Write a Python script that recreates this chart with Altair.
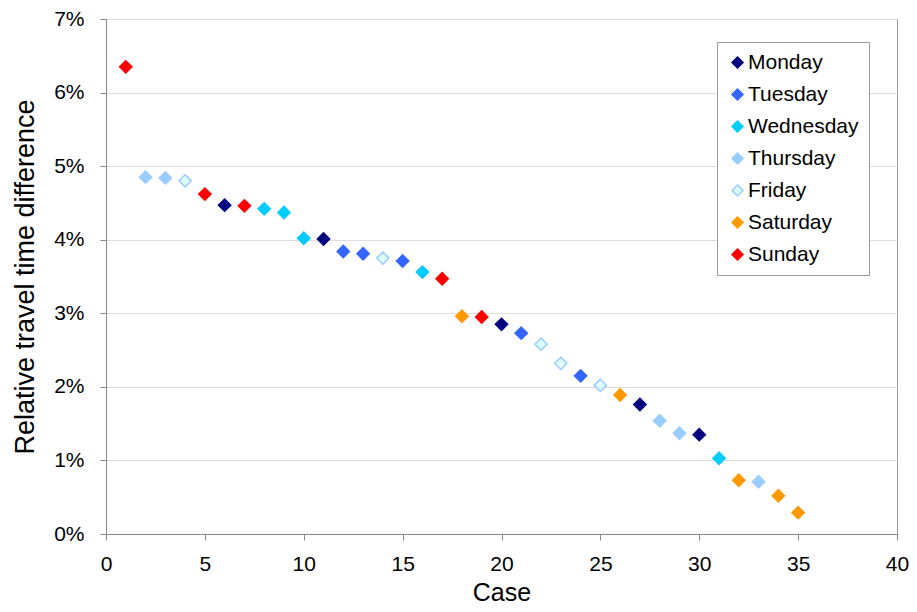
import altair as alt
import pandas as pd

cases = list(range(1, 36))
values = [6.35, 4.85, 4.84, 4.80, 4.62, 4.47, 4.46, 4.42, 4.37, 4.02,
          4.01, 3.84, 3.81, 3.75, 3.71, 3.56, 3.47, 2.96, 2.95, 2.85,
          2.73, 2.58, 2.32, 2.15, 2.02, 1.89, 1.76, 1.54, 1.37, 1.35,
          1.03, 0.73, 0.71, 0.52, 0.29]
days = ["Sunday", "Thursday", "Thursday", "Friday", "Sunday", "Monday", "Sunday",
        "Wednesday", "Wednesday", "Wednesday", "Monday", "Tuesday", "Tuesday",
        "Friday", "Tuesday", "Wednesday", "Sunday", "Saturday", "Sunday", "Monday",
        "Tuesday", "Friday", "Friday", "Tuesday", "Friday", "Saturday", "Monday",
        "Thursday", "Thursday", "Monday", "Wednesday", "Saturday", "Thursday",
        "Saturday", "Saturday"]

day_order = ["Monday", "Tuesday", "Wednesday", "Thursday", "Friday", "Saturday", "Sunday"]
fill_colors = ["#000080", "#3366FF", "#00CCFF", "#99CCFF", "#DDFFFF", "#FF9900", "#FF0000"]
stroke_colors = ["#000080", "#3366FF", "#00CCFF", "#99CCFF", "#99CCFF", "#FF9900", "#FF0000"]

df = pd.DataFrame({"Case": cases, "Value": [v / 100 for v in values], "Day": days})

FONT = "Liberation Sans"

legend = alt.Legend(
    title=None, orient="none", legendX=611, legendY=23,
    labelFont=FONT, labelFontSize=21, labelColor="#000000",
    symbolType="diamond", symbolSize=121, symbolStrokeWidth=1.5,
    rowPadding=10, labelOffset=0, padding=10,
    strokeColor="#999999", fillColor="#FFFFFF",
)

chart = alt.Chart(df).mark_point(shape="diamond", filled=True, size=150, strokeWidth=1.5, opacity=1).encode(
    x=alt.X("Case:Q", scale=alt.Scale(domain=[0, 40], nice=False),
            axis=alt.Axis(values=[0, 5, 10, 15, 20, 25, 30, 35, 40], grid=False,
                          title="Case", titleFont=FONT, titleFontSize=25, titleFontWeight="normal",
                          titleColor="#000000", titleY=66, titleBaseline="alphabetic",
                          labelFont=FONT, labelFontSize=21, labelColor="#000000",
                          labelPadding=13, tickSize=6, tickColor="#888888",
                          domainColor="#888888", labelFlush=False)),
    y=alt.Y("Value:Q", scale=alt.Scale(domain=[0, 0.07], nice=False),
            axis=alt.Axis(values=[0, 0.01, 0.02, 0.03, 0.04, 0.05, 0.06, 0.07], format=".0%",
                          grid=True, gridColor="#DDDDDD",
                          title="Relative travel time difference", titleFont=FONT, titleFontSize=27,
                          titleFontWeight="normal", titleColor="#000000",
                          titleX=-73, titleBaseline="alphabetic",
                          labelFont=FONT, labelFontSize=21, labelColor="#000000",
                          labelPadding=16, tickSize=6, tickColor="#888888",
                          domainColor="#888888")),
    fill=alt.Fill("Day:N", scale=alt.Scale(domain=day_order, range=fill_colors), legend=legend),
    stroke=alt.Stroke("Day:N", scale=alt.Scale(domain=day_order, range=stroke_colors), legend=legend),
).properties(
    width=791, height=515,
    autosize=alt.AutoSizeParams(type="none"),
    padding={"left": 98, "top": 11, "right": 12, "bottom": 70},
).configure_view(
    stroke="#999999", strokeWidth=1
)

chart.save("out.html", embed_options={"renderer": "svg", "actions": False})
